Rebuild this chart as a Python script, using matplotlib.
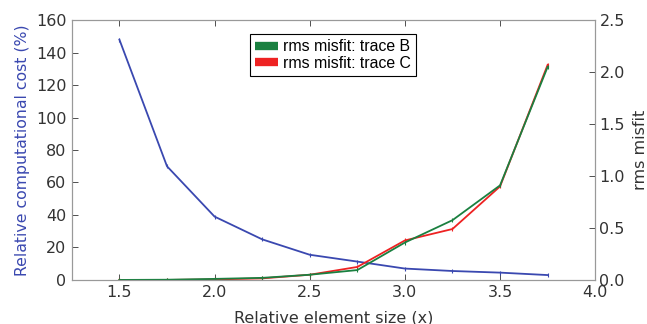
import numpy as np
from matplotlib import pyplot as plt

# ── Data ──────────────────────────────────────────────────────────────────────
elem_size = [1.5, 1.75, 2.0, 2.25, 2.5, 2.75, 3.0, 3.25, 3.5, 3.75]
cost_pct = [148, 70, 39, 25, 15.5, 11.3, 7, 5.5, 4.5, 3]
misfit_b = [0.0, 0.002, 0.01, 0.02, 0.05, 0.095, 0.36, 0.575, 0.91, 2.05]
misfit_c = [0.0, 0.0, 0.005, 0.015, 0.05, 0.125, 0.38, 0.49, 0.90, 2.07]

COLORS = {
    "cost": "#3a48b0",
    "b": "#1a8040",
    "c": "#ee2222",
    "text": "#333333",
    "spine": "#999999",
}

plt.rcParams.update(
    {
        "font.family": "DejaVu Sans",
        "font.size": 11.5,
        "xtick.direction": "in",
        "ytick.direction": "in",
        "xtick.color": COLORS["text"],
        "ytick.color": COLORS["text"],
    }
)

# ── Figure ────────────────────────────────────────────────────────────────────
fig = plt.figure(figsize=(6.47, 3.24), dpi=100)
ax = fig.add_axes([0.111, 0.136, 0.809, 0.802])
ax2 = ax.twinx()

ax.plot(elem_size, cost_pct, color=COLORS["cost"], lw=1.3,
        marker="|", ms=3, mew=0.8)
ax2.plot(elem_size, misfit_c, color=COLORS["c"], lw=1.3,
         marker="|", ms=3, mew=0.8, label="rms misfit: trace C")
ax2.plot(elem_size, misfit_b, color=COLORS["b"], lw=1.3,
         marker="|", ms=3, mew=0.8, label="rms misfit: trace B")

ax.set_xlim(1.25, 4.0)
ax.set_ylim(0, 160)
ax2.set_ylim(0, 2.5)
ax.set_xticks(np.arange(1.5, 4.01, 0.5))
ax.set_yticks(np.arange(0, 161, 20))
ax2.set_yticks(np.arange(0, 2.51, 0.5))

for a in (ax, ax2):
    for s in a.spines.values():
        s.set_color(COLORS["spine"])
    a.tick_params(which="both", length=4, width=0.6, labelsize=11.5,
                  colors=COLORS["text"], pad=4)
    a.tick_params(axis="y", labelcolor=COLORS["text"])
ax2.tick_params(pad=3)
ax.tick_params(top=True)

ax.set_xlabel("Relative element size (x)", color=COLORS["text"],
              fontsize=11.5, labelpad=7)
ax.set_ylabel("Relative computational cost (%)", color=COLORS["cost"],
              fontsize=11.3)
ax2.set_ylabel("rms misfit", color=COLORS["text"], fontsize=11.5, labelpad=6)

# ── Legend ────────────────────────────────────────────────────────────────────
h, l = ax2.get_legend_handles_labels()
leg = ax2.legend(h[::-1], l[::-1], loc="upper center",
                 bbox_to_anchor=(0.499, 0.948),
                 prop={"family": "Liberation Sans", "size": 11.4},
                 fancybox=False, framealpha=1, edgecolor="black",
                 handlelength=1.45, handletextpad=0.3, borderpad=0.35,
                 labelspacing=0.1, borderaxespad=0)
leg.get_frame().set_linewidth(0.8)
for ln in leg.get_lines():
    ln.set_linewidth(6)
    ln.set_solid_capstyle("butt")
    ln.set_marker("")

plt.savefig("out.png", dpi=100)
